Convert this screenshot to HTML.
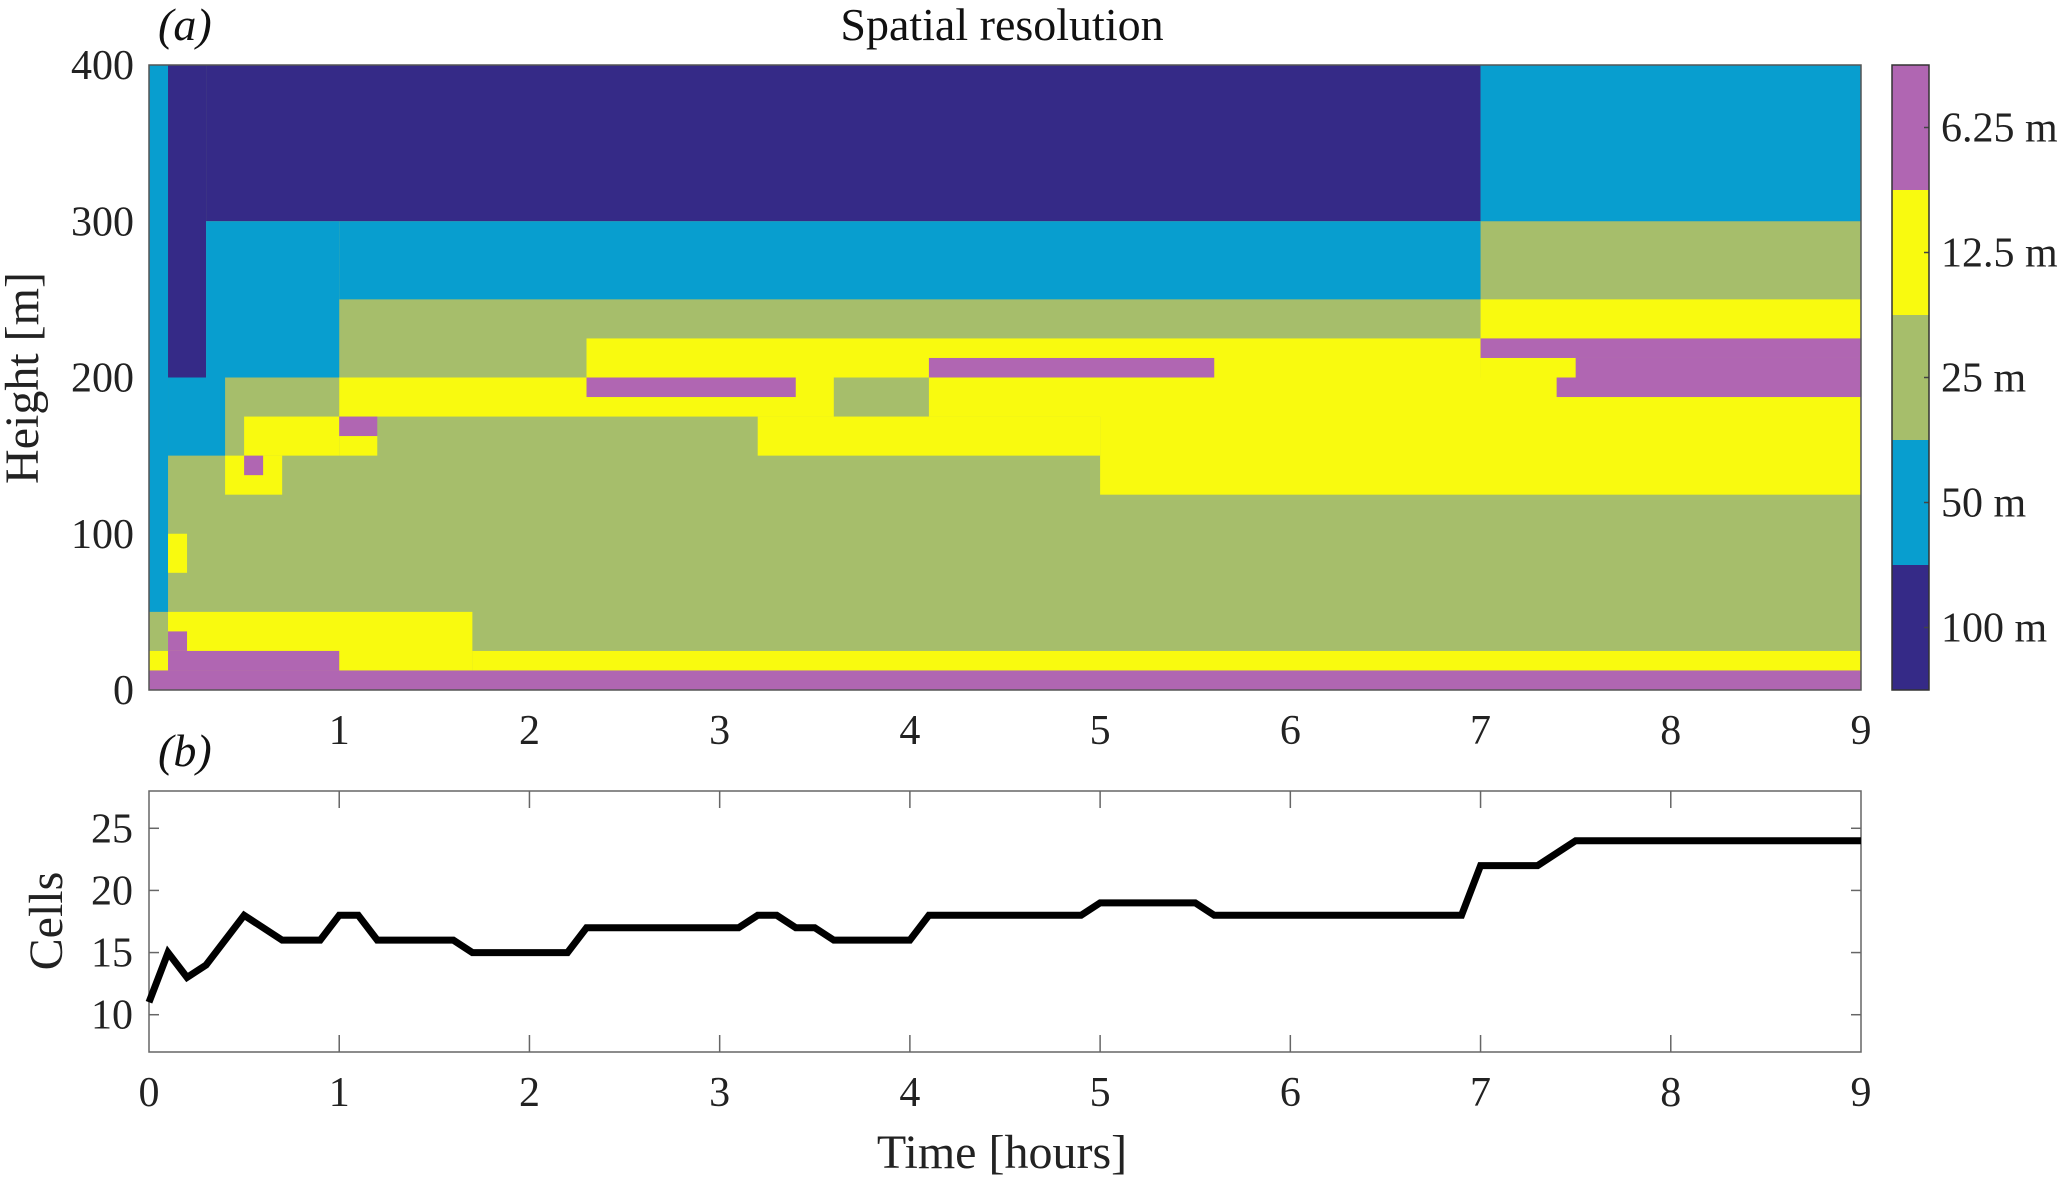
<!DOCTYPE html>
<html><head><meta charset="utf-8"><style>
html,body{margin:0;padding:0;background:#fff;}
svg{display:block;}
text{font-family:"Liberation Serif","DejaVu Serif",serif;}
</style></head><body>
<svg id="fig" width="2067" height="1181" viewBox="0 0 2067 1181" xmlns="http://www.w3.org/2000/svg" font-family="Liberation Serif, DejaVu Serif, serif">
<g id="gtop"></g>
<g id="gbot"></g>
</svg>
<script>
// ---- data: heatmap rectangles (painted in order) ----
const rectT0 = [0,0,0.1,0.3,7,0.3,1.0,0.1,2.3,7,5,7,1.0,3.6,3.2,0.5,1.0,7,7.5,7.4,2.3,4.1,1.0,0.4,0.5,0.1,0.1,1.7,0,0,0.1,0.1];
const rectT1 = [9,0.1,0.3,7,9,1.0,7,0.4,7,9,9,9,9,4.1,5,1.0,1.2,9,9,9,3.4,5.6,1.2,0.7,0.6,0.2,1.7,9,0.1,9,1.0,0.2];
const rectH0 = [0,50,200,300,300,200,250,150,200,225,125,200,175,175,150,150,162.5,212.5,200,187.5,187.5,200,150,125,137.5,75,12.5,12.5,12.5,0,12.5,25];
const rectH1 = [400,400,400,400,400,300,300,200,225,250,200,212.5,200,200,175,175,175,225,212.5,200,200,212.5,162.5,150,150,100,50,25,25,12.5,25,37.5];
const rectLevel = [2,1,0,0,1,1,1,1,3,3,3,3,3,2,3,3,4,4,4,4,4,4,3,3,4,3,3,3,3,4,4,4];
const levelNames = ["100 m","50 m","25 m","12.5 m","6.25 m"];
const levelColors = ["#352a87","#089ecf","#a6be6b","#f9fa0f","#b066b2"];
// ---- data: cells over time ----
const times = [0,0.1,0.2,0.3,0.5,0.7,0.9,1.0,1.1,1.2,1.6,1.7,2.2,2.3,3.1,3.2,3.3,3.4,3.5,3.6,4.0,4.1,4.9,5.0,5.5,5.6,6.9,7.0,7.3,7.5,9.0];
const cells = [11,15,13,14,18,16,16,18,18,16,16,15,15,17,17,18,18,17,17,16,16,18,18,19,19,18,18,22,22,24,24];
const xTicks = [0,1,2,3,4,5,6,7,8,9];
const hTicks = [0,100,200,300,400];
const cTicks = [10,15,20,25];

const NS="http://www.w3.org/2000/svg";
const FF="Liberation Serif, DejaVu Serif, serif";
function mk(tag,attrs,parent,text){const e=document.createElementNS(NS,tag);for(const k in attrs)e.setAttribute(k,attrs[k]);if(text!==undefined){e.setAttribute('font-family',FF);e.textContent=text;}parent.appendChild(e);return e;}
const L=149,R=1861;
const xs=t=>L+(R-L)*t/9;
const T0=65,B0=690;
const yh=h=>B0-(B0-T0)*h/400;
const T1=791,B1=1052;
const yc=c=>B1-(B1-T1)*(c-7)/21;

const gTop=document.getElementById('gtop');
const gBot=document.getElementById('gbot');

for(let i=0;i<rectT0.length;i++){
  const x0=xs(rectT0[i]),x1=xs(rectT1[i]),y0=yh(rectH1[i]),y1=yh(rectH0[i]);
  const r=mk('rect',{x:x0,y:y0,width:x1-x0,height:y1-y0,fill:levelColors[rectLevel[i]]},gTop);
  
  
}
let fr=mk('rect',{x:L,y:T0,width:R-L,height:B0-T0,fill:'none',stroke:'#555','stroke-width':1.5},gTop);



hTicks.forEach(h=>{
  const t=mk('text',{x:134,y:yh(h)+14,'text-anchor':'end','font-size':42,fill:'#222'},gTop,String(h));
  
  
});
xTicks.filter(v=>v>0).forEach(v=>{
  const t=mk('text',{x:xs(v),y:744,'text-anchor':'middle','font-size':42,fill:'#222'},gTop,String(v));
  
  
});
let t1=mk('text',{x:1002,y:40,'text-anchor':'middle','font-size':46,fill:'#111'},gTop,'Spatial resolution');


let t2=mk('text',{x:158,y:40,'font-size':46,'font-style':'italic',fill:'#111'},gTop,'(a)');


let t3=mk('text',{x:38,y:378,'text-anchor':'middle','font-size':48,fill:'#222',transform:'rotate(-90 38 378)'},gTop,'Height [m]');



// colorbar
const CL=1892,CR=1929,seg=(B0-T0)/5;
for(let i=0;i<5;i++){
  const y0=B0-seg*(i+1);
  const r=mk('rect',{x:CL,y:y0,width:CR-CL,height:seg,fill:levelColors[i]},gTop);
  
  
  mk('line',{x1:CR-5,x2:CR,y1:y0+seg/2,y2:y0+seg/2,stroke:'#444','stroke-width':1.5},gTop);
  const tx=mk('text',{x:1941,y:y0+seg/2+14,'font-size':42,fill:'#222'},gTop,levelNames[i]);
  
  
}
let cf=mk('rect',{x:CL,y:T0,width:CR-CL,height:B0-T0,fill:'none',stroke:'#333','stroke-width':1.5},gTop);



// bottom panel
let bf=mk('rect',{x:L,y:T1,width:R-L,height:B1-T1,fill:'none',stroke:'#666','stroke-width':1.5},gBot);


xTicks.forEach(v=>{
  const x=xs(v);
  if(v>0&&v<9){
    mk('line',{x1:x,x2:x,y1:T1,y2:T1+17,stroke:'#666','stroke-width':1.5},gBot);
    mk('line',{x1:x,x2:x,y1:B1,y2:B1-17,stroke:'#666','stroke-width':1.5},gBot);
  }
  const t=mk('text',{x:x,y:1106,'text-anchor':'middle','font-size':42,fill:'#222'},gBot,String(v));
  
  
});
cTicks.forEach(c=>{
  const y=yc(c);
  mk('line',{x1:L,x2:L+10,y1:y,y2:y,stroke:'#666','stroke-width':1.5},gBot);
  mk('line',{x1:R,x2:R-10,y1:y,y2:y,stroke:'#666','stroke-width':1.5},gBot);
  const t=mk('text',{x:133,y:y+14,'text-anchor':'end','font-size':42,fill:'#222'},gBot,String(c));
  
  
});
const pts=times.map((t,i)=>xs(t)+','+yc(cells[i])).join(' ');
let pl=mk('polyline',{points:pts,fill:'none',stroke:'#000','stroke-width':7,'stroke-linejoin':'miter'},gBot);


let b1=mk('text',{x:158,y:766,'font-size':46,'font-style':'italic',fill:'#111'},gBot,'(b)');


let b2=mk('text',{x:62,y:921,'text-anchor':'middle','font-size':48,fill:'#222',transform:'rotate(-90 62 921)'},gBot,'Cells');


let b3=mk('text',{x:1002,y:1168,'text-anchor':'middle','font-size':48,fill:'#222'},gBot,'Time [hours]');


</script>
</body></html>
